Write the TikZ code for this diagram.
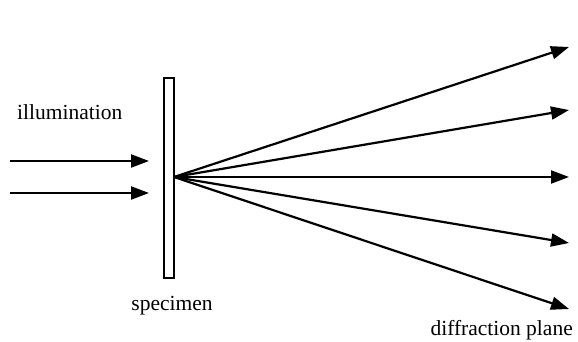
\documentclass[tikz,border=0pt]{standalone}
\usepackage{fontspec}
\setmainfont{Liberation Serif}
\usetikzlibrary{arrows.meta}
\begin{document}
\begin{tikzpicture}[x=1pt,y=-1pt,
  ray/.style={line width=2.2pt,-{Triangle[length=18pt,width=13pt]}},
  lbl/.style={inner sep=0pt,font=\fontsize{21.5}{24}\selectfont}]
\useasboundingbox (0,0) rectangle (578,342);
\node[draw,line width=1.8pt,minimum width=10pt,minimum height=200pt,inner sep=0pt] (spec) at (169,178) {};
\coordinate (o) at (174,177);
\coordinate (i1s) at (10,161);
\coordinate (i2s) at (10,193);
\coordinate (i1e) at (149,161);
\coordinate (i2e) at (149,193);
\draw[ray] (i1s) -- (i1e);
\draw[ray] (i2s) -- (i2e);
\coordinate (t1) at (569,47);
\coordinate (t2) at (569,110);
\coordinate (t3) at (569,177);
\coordinate (t4) at (569,243);
\coordinate (t5) at (569,309);
\foreach \t in {t1,t2,t3,t4,t5} \draw[ray] (o) -- (\t);
\node[lbl,anchor=base west] (ill) at (17,120) {illumination};
\node[lbl,anchor=base] (spl) at (172,310) {specimen};
\node[lbl,anchor=base east] (dp) at (573,335) {diffraction plane};
\end{tikzpicture}
\end{document}
